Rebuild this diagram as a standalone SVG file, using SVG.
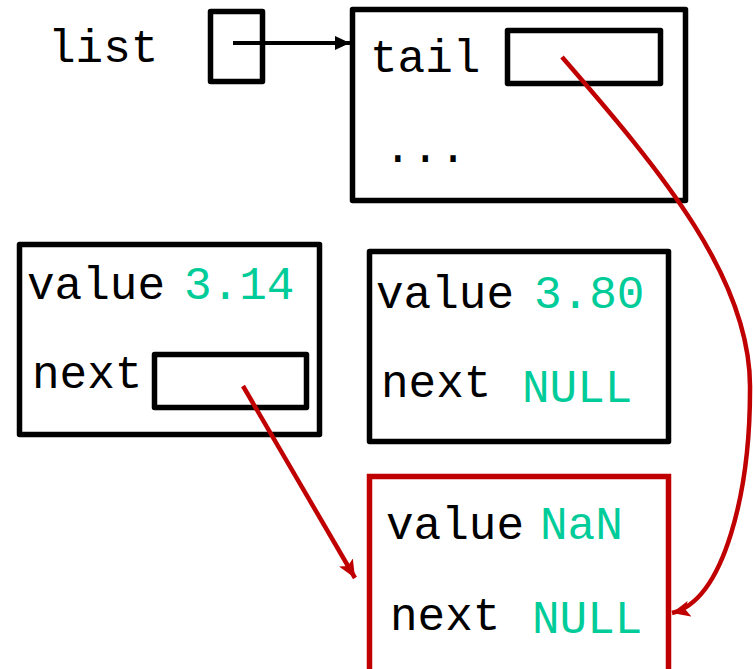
<svg xmlns="http://www.w3.org/2000/svg" width="753" height="669" viewBox="0 0 753 669">
<defs>
<style>
.box{fill:none;stroke:#000;stroke-width:5.5;stroke-linejoin:round}
.rbox{fill:none;stroke:#C00000;stroke-width:5.5}
.t{font-family:"Liberation Mono","Courier New",monospace;font-size:46px;fill:#000}
.v{font-family:"Liberation Mono","Courier New",monospace;font-size:46px;fill:#00CC99}
.bl{fill:none;stroke:#000;stroke-width:4}
.rd{fill:none;stroke:#C00000;stroke-width:4.5}
</style>
<marker id="ab" markerUnits="userSpaceOnUse" markerWidth="16" markerHeight="16" refX="15" refY="8" orient="auto"><path d="M0,1 L15,8 L0,15 z" fill="#000"/></marker>
<marker id="ar" markerUnits="userSpaceOnUse" markerWidth="20" markerHeight="18" refX="18" refY="9" orient="auto"><path d="M0,1 L18,9 L0,17 L4,9 z" fill="#C00000"/></marker>
</defs>
<g id="list">
<text class="t" x="48" y="62">list</text>
<rect class="box" x="210.5" y="11.5" width="52" height="70"/>
</g>
<g id="header">
<rect class="box" x="352.5" y="9.5" width="333" height="191"/>
<text class="t" x="370" y="72">tail</text>
<rect class="box" x="507.5" y="30.5" width="153" height="53"/>
<text class="t" x="384" y="162">...</text>
</g>
<g id="node1">
<rect class="box" x="19.5" y="244.5" width="300" height="190"/>
<text class="t" x="27" y="299">value</text>
<text class="v" x="184" y="299">3.14</text>
<text class="t" x="32" y="388">next</text>
<rect class="box" x="154.5" y="354.5" width="152" height="53"/>
</g>
<g id="node2">
<rect class="box" x="369.5" y="251.5" width="299" height="190"/>
<text class="t" x="376" y="308">value</text>
<text class="v" x="534" y="308">3.80</text>
<text class="t" x="381" y="397">next</text>
<text class="v" x="522" y="402">NULL</text>
</g>
<g id="node3">
<rect class="rbox" x="369.5" y="476.5" width="299" height="196"/>
<text class="t" x="386" y="539">value</text>
<text class="v" x="540" y="539">NaN</text>
<text class="t" x="390" y="630">next</text>
<text class="v" x="532" y="633">NULL</text>
</g>
<g id="connectors">
<path class="bl" d="M233,43 L350,43" marker-end="url(#ab)"/>
<path class="rd" d="M243,386 L355,578" marker-end="url(#ar)"/>
<path class="rd" d="M562,57 C662,172 752,280 750,390 C750,490 725,600 672,613" marker-end="url(#ar)"/>
</g>
</svg>
